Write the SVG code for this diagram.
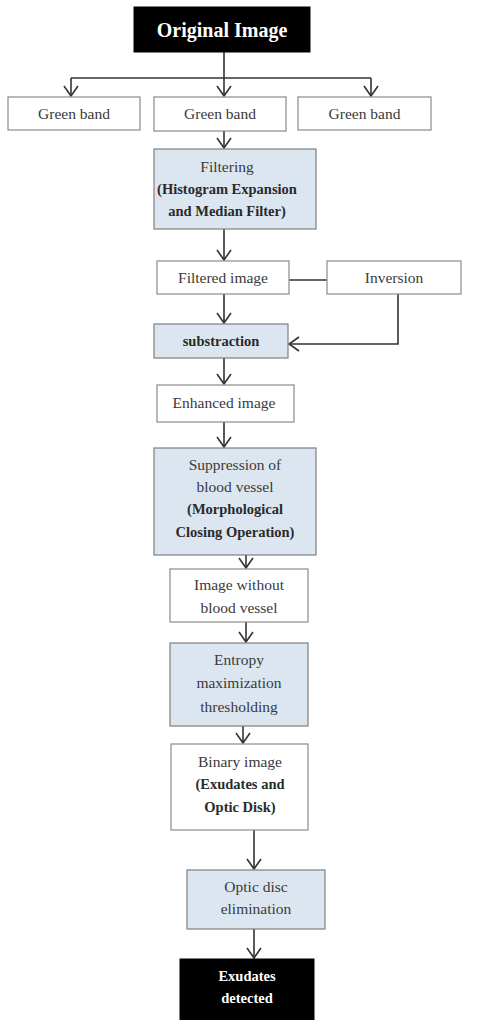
<svg xmlns="http://www.w3.org/2000/svg" width="485" height="1020" viewBox="0 0 485 1020">
  <style>
    .box { fill: #ffffff; stroke: #8a8a8a; stroke-width: 1.2; }
    .hl { fill: #dce6f1; stroke: #7f7f7f; stroke-width: 1.2; }
    .dark { fill: #000000; stroke: #000000; }
    .t { font-family: "Liberation Serif", "DejaVu Serif", serif; font-size: 15.5px; fill: #3a3a3a; text-anchor: middle; }
    .b { font-family: "Liberation Serif", "DejaVu Serif", serif; font-size: 14.5px; font-weight: bold; fill: #2a2a2a; text-anchor: middle; }
    .w { font-family: "Liberation Serif", "DejaVu Serif", serif; font-weight: bold; fill: #ffffff; text-anchor: middle; }
    .ln { fill: none; stroke: #333333; stroke-width: 1.6; }
  </style>
  <defs>
    <marker id="arrow" viewBox="0 0 12 16" refX="11" refY="8" markerWidth="12" markerHeight="16" markerUnits="userSpaceOnUse" orient="auto">
      <path d="M1,1 L11,8 L1,15" fill="none" stroke="#333333" stroke-width="1.6"/>
    </marker>
  </defs>

  <rect width="485" height="1020" fill="#ffffff"/>

  <g id="connectors">
    <path class="ln" d="M224,52 V78 M71,78 H371"/>
    <path class="ln" d="M71,78 V96" marker-end="url(#arrow)"/>
    <path class="ln" d="M224,78 V96" marker-end="url(#arrow)"/>
    <path class="ln" d="M371,78 V96" marker-end="url(#arrow)"/>
    <path class="ln" d="M224,131 V148" marker-end="url(#arrow)"/>
    <path class="ln" d="M224,229 V260" marker-end="url(#arrow)"/>
    <path class="ln" d="M289,280 H327"/>
    <path class="ln" d="M224,294 V323" marker-end="url(#arrow)"/>
    <path class="ln" d="M398,294 V344 H289" marker-end="url(#arrow)"/>
    <path class="ln" d="M224,358 V384" marker-end="url(#arrow)"/>
    <path class="ln" d="M224,422 V447" marker-end="url(#arrow)"/>
    <path class="ln" d="M246,555 V568" marker-end="url(#arrow)"/>
    <path class="ln" d="M246,622 V642" marker-end="url(#arrow)"/>
    <path class="ln" d="M243,726 V743" marker-end="url(#arrow)"/>
    <path class="ln" d="M254,830 V869" marker-end="url(#arrow)"/>
    <path class="ln" d="M254,929 V958" marker-end="url(#arrow)"/>
  </g>

  <g id="original-image">
    <rect class="dark" x="134" y="7" width="176" height="45"/>
    <text class="w" x="222" y="37" font-size="20">Original Image</text>
  </g>

  <g id="green-band-1">
    <rect class="box" x="8" y="97" width="132" height="33"/>
    <text class="t" x="74" y="119">Green band</text>
  </g>
  <g id="green-band-2">
    <rect class="box" x="154" y="97" width="132" height="34"/>
    <text class="t" x="220" y="119">Green band</text>
  </g>
  <g id="green-band-3">
    <rect class="box" x="298" y="97" width="133" height="33"/>
    <text class="t" x="364.5" y="119">Green band</text>
  </g>

  <g id="filtering">
    <rect class="hl" x="154" y="149" width="162" height="80"/>
    <text class="t" x="227" y="172">Filtering</text>
    <text class="b" x="227" y="194">(Histogram Expansion</text>
    <text class="b" x="227" y="216">and Median Filter)</text>
  </g>

  <g id="filtered-image">
    <rect class="box" x="157" y="261" width="132" height="33"/>
    <text class="t" x="223" y="283">Filtered image</text>
  </g>

  <g id="inversion">
    <rect class="box" x="327" y="261" width="134" height="33"/>
    <text class="t" x="394" y="283">Inversion</text>
  </g>

  <g id="substraction">
    <rect class="hl" x="154" y="324" width="134" height="34"/>
    <text class="b" x="221" y="346">substraction</text>
  </g>

  <g id="enhanced-image">
    <rect class="box" x="157" y="385" width="137" height="37"/>
    <text class="t" x="224" y="408">Enhanced image</text>
  </g>

  <g id="suppression">
    <rect class="hl" x="154" y="448" width="162" height="107"/>
    <text class="t" x="235" y="470">Suppression of</text>
    <text class="t" x="235" y="492">blood vessel</text>
    <text class="b" x="235" y="514">(Morphological</text>
    <text class="b" x="235" y="537">Closing Operation)</text>
  </g>

  <g id="image-without-vessel">
    <rect class="box" x="170" y="569" width="138" height="53"/>
    <text class="t" x="239" y="590">Image without</text>
    <text class="t" x="239" y="613">blood vessel</text>
  </g>

  <g id="entropy-thresholding">
    <rect class="hl" x="170" y="643" width="138" height="83"/>
    <text class="t" x="239" y="665">Entropy</text>
    <text class="t" x="239" y="688">maximization</text>
    <text class="t" x="239" y="712">thresholding</text>
  </g>

  <g id="binary-image">
    <rect class="box" x="171" y="744" width="137" height="86"/>
    <text class="t" x="240" y="767">Binary image</text>
    <text class="b" x="240" y="789">(Exudates and</text>
    <text class="b" x="240" y="812">Optic Disk)</text>
  </g>

  <g id="optic-disc-elimination">
    <rect class="hl" x="187" y="870" width="138" height="59"/>
    <text class="t" x="256" y="892">Optic disc</text>
    <text class="t" x="256" y="914">elimination</text>
  </g>

  <g id="exudates-detected">
    <rect class="dark" x="180" y="959" width="134" height="61"/>
    <text class="w" x="247" y="981" font-size="14.5">Exudates</text>
    <text class="w" x="247" y="1003" font-size="14.5">detected</text>
  </g>
</svg>
